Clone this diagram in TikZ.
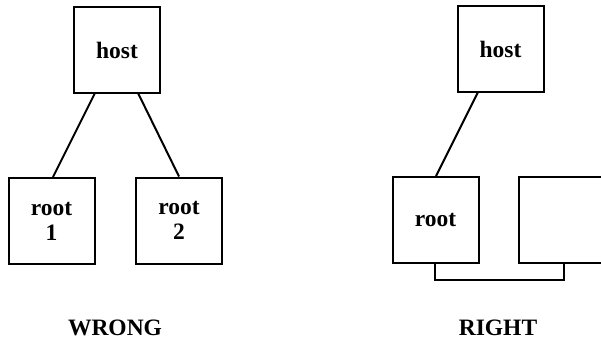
\documentclass[tikz,border=0pt]{standalone}
\usepackage{fontspec}
\setmainfont{Liberation Serif}
\begin{document}
\begin{tikzpicture}[x=1pt,y=-1pt,line width=2pt,
  box/.style={draw,rectangle,minimum width=86pt,minimum height=86pt,inner sep=0pt,align=center,font=\bfseries\fontsize{23.5}{25}\selectfont},
  lbl/.style={font=\bfseries\fontsize{23.5}{24}\selectfont}]
\useasboundingbox (0,0) rectangle (601,341);
% WRONG
\node[box] (h1) at (117,50) {host};
\node[box] (r1) at (51.5,221) {root\\1};
\node[box] (r2) at (179,220.5) {root\\2};
\coordinate (a1) at (95,93);
\coordinate (a2) at (138,93);
\draw (a1) -- (r1.north -| 53,0);
\draw (a2) -- (r2.north -| 179,0);
\node[lbl] (w) at (115,328) {WRONG};
% RIGHT
\node[box] (h2) at (500.5,49) {host};
\node[box] (r3) at (435.5,220) {root};
\coordinate (b1) at (478,92);
\draw (b1) -- (r3.north -| 436,0);
\coordinate (e1) at (604,177);
\coordinate (e2) at (604,263);
\coordinate (c1) at (519,177);
\coordinate (c2) at (519,263);
\draw (e1) -- (c1) -- (c2) -- (e2);
\coordinate (k1) at (435,263);
\coordinate (k2) at (435,280);
\coordinate (k3) at (564,280);
\coordinate (k4) at (564,263);
\draw (k1) -- (k2) -- (k3) -- (k4);
\node[lbl] (rt) at (498,328) {RIGHT};
\end{tikzpicture}
\end{document}
